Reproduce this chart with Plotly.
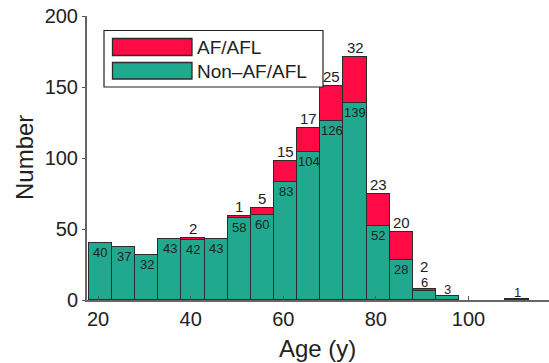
import plotly.graph_objects as go

# Data (bins of 5 years, centres)
bin_centers = [20.5, 25.5, 30.5, 35.5, 40.5, 45.5, 50.5, 55.5, 60.5, 65.5, 70.5,
               75.5, 80.5, 85.5, 90.5, 95.5, 100.5, 105.5, 110.5]
non_af = [40, 37, 32, 43, 42, 43, 58, 60, 83, 104, 126, 139, 52, 28, 6, 3, 0, 0, 1]
af = [0, 0, 0, 0, 2, 0, 1, 5, 15, 17, 25, 32, 23, 20, 2, 0, 0, 0, 0]
x_ticks = [20, 40, 60, 80, 100]
y_ticks = [0, 50, 100, 150, 200]

RED = "#FF0A45"
TEAL = "#20A98E"
EDGE = "#2b2b2b"
FONT = "Liberation Sans, Arial, sans-serif"
W, H = 549, 363
L, R, T, B = 87, 0, 16, 63
PW, PH = W - L - R, H - T - B


def px_x(p):
    return (p - L) / PW


def px_y(p):
    return (H - B - p) / PH


fig = go.Figure()
fig.add_trace(go.Bar(
    x=bin_centers, y=[v if v > 0 else None for v in non_af], width=5,
    marker=dict(color=TEAL, line=dict(color=EDGE, width=1.3)),
    name="Non–AF/AFL", showlegend=False))
fig.add_trace(go.Bar(
    x=bin_centers, y=[v if v > 0 else None for v in af], width=5,
    marker=dict(color=RED, line=dict(color=EDGE, width=1.3)),
    name="AF/AFL", showlegend=False))

annotations = []
for xc, n, a in zip(bin_centers, non_af, af):
    total = n + a
    if n > 0:
        if n >= 10:
            annotations.append(dict(x=xc, y=n, xref="x", yref="y", text=str(n),
                                    showarrow=False, yanchor="top", yshift=0,
                                    font=dict(size=13, color="#222", family=FONT)))
        else:
            annotations.append(dict(x=xc, y=total, xref="x", yref="y", text=str(n),
                                    showarrow=False, yanchor="bottom", yshift=-3,
                                    font=dict(size=13, color="#222", family=FONT)))
    if a > 0:
        shift = 12 if n < 10 else -1
        annotations.append(dict(x=xc, y=total, xref="x", yref="y", text=str(a),
                                showarrow=False, yanchor="bottom", yshift=shift,
                                font=dict(size=15, color="#222", family=FONT)))

# Manual legend
shapes = [
    dict(type="rect", xref="paper", yref="paper", x0=px_x(104), x1=px_x(323),
         y0=px_y(87), y1=px_y(30.5), line=dict(color="#222", width=1.2), fillcolor="white", layer="above"),
    dict(type="rect", xref="paper", yref="paper", x0=px_x(112.5), x1=px_x(192),
         y0=px_y(55.5), y1=px_y(38.5), line=dict(color=EDGE, width=1.3), fillcolor=RED, layer="above"),
    dict(type="rect", xref="paper", yref="paper", x0=px_x(112.5), x1=px_x(192),
         y0=px_y(79), y1=px_y(62.5), line=dict(color=EDGE, width=1.3), fillcolor=TEAL, layer="above"),
]
annotations.append(dict(x=px_x(195), y=px_y(47.5), xref="paper", yref="paper", text="AF/AFL",
                        showarrow=False, xanchor="left", yanchor="middle",
                        font=dict(size=19, color="#222", family=FONT)))
annotations.append(dict(x=px_x(195), y=px_y(71.5), xref="paper", yref="paper", text="Non–AF/AFL",
                        showarrow=False, xanchor="left", yanchor="middle",
                        font=dict(size=19, color="#222", family=FONT)))
# Axis titles
annotations.append(dict(x=px_x(317), y=px_y(348), xref="paper", yref="paper", text="Age (y)",
                        showarrow=False, xanchor="center", yanchor="middle",
                        font=dict(size=24, color="#222", family=FONT)))
annotations.append(dict(x=px_x(24), y=px_y(158), xref="paper", yref="paper", text="Number",
                        showarrow=False, xanchor="center", yanchor="middle", textangle=-90,
                        font=dict(size=24, color="#222", family=FONT)))

fig.update_layout(
    width=W, height=H, margin=dict(l=L, r=R, t=T, b=B),
    barmode="stack", bargap=0,
    plot_bgcolor="white", paper_bgcolor="white",
    font=dict(family=FONT, color="#222"),
    shapes=shapes, annotations=annotations,
    xaxis=dict(range=[17.6, 117.4], tickvals=x_ticks, ticks="inside", ticklen=4,
               tickcolor="#555", tickwidth=1.3, showgrid=False, zeroline=False,
               showline=True, linecolor="#666", linewidth=2, automargin=False,
               tickfont=dict(size=20, color="#222", family=FONT)),
    yaxis=dict(range=[0, 200], tickvals=y_ticks, ticks="outside", ticklen=3,
               tickcolor="#555", tickwidth=1.3, showgrid=False, zeroline=False,
               showline=True, linecolor="#666", linewidth=2, automargin=False,
               tickfont=dict(size=20, color="#222", family=FONT)),
)

fig.write_html("out.html", config={"displayModeBar": False},
               post_script="document.body.style.margin='0';")
